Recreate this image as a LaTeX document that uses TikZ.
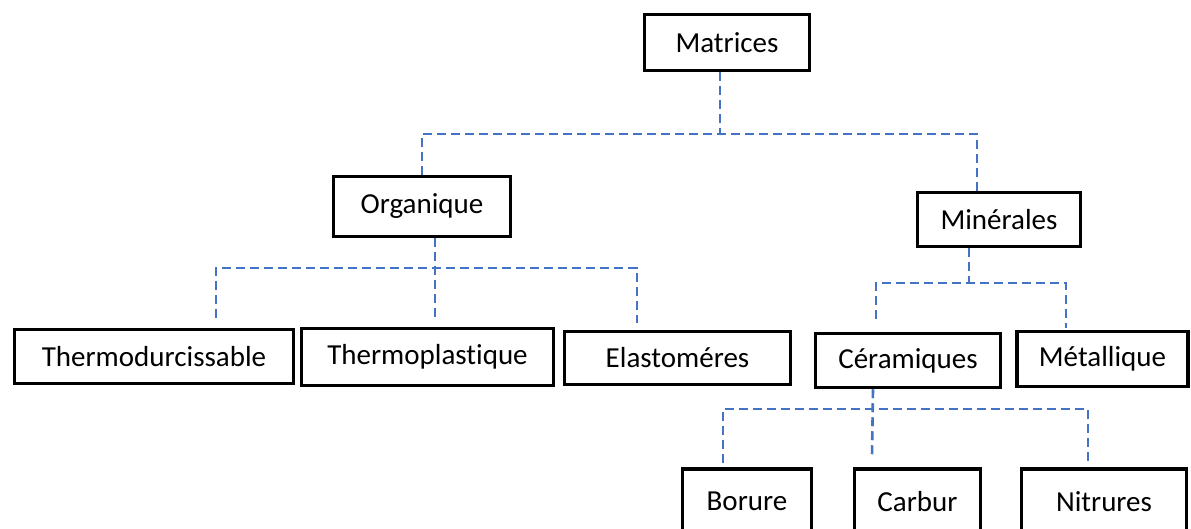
\documentclass[tikz,border=0pt]{standalone}
\usepackage{fontspec}
\setmainfont[Ligatures=NoCommon]{Carlito}
\definecolor{linkblue}{RGB}{68,114,196}

\begin{document}
\begin{tikzpicture}
    [x=1pt,y=-1pt,
    box/.style={draw,line width=3.5pt,inner sep=0pt,font=\fontsize{29}{34}\selectfont},
    link/.style={draw=linkblue,line width=2.6pt,dash pattern=on 9pt off 5pt}]
    \useasboundingbox (0,0) rectangle (1191,529);
    \clip (0,0) rectangle (1191,529);
    \node [box,minimum width=165pt,minimum height=56pt] (mat) at (727,42.5) {Matrices};
    \node [box,minimum width=177pt,minimum height=60pt] (org) at (422,206.5) {Organique};
    \node [box,minimum width=163pt,minimum height=54pt] (min) at (999,219.5) {Minérales};
    \node [box,minimum width=279pt,minimum height=54pt] (tdu) at (154,356.5) {Thermodurcissable};
    \node [box,minimum width=252pt,minimum height=57pt] (tpl) at (427.5,357) {Thermoplastique};
    \node [box,minimum width=226pt,minimum height=53pt] (ela) at (677.5,358) {Elastoméres};
    \node [box,minimum width=185pt,minimum height=54pt] (cer) at (908,360.5) {Céramiques};
    \node [box,minimum width=171pt,minimum height=55pt] (met) at (1102.5,359) {Métallique};
    \node [box,minimum width=129pt,minimum height=71pt,text depth=0pt] (bor) at (747,504.5) {\raisebox{6pt}{Borure}};
    \node [box,minimum width=126pt,minimum height=71pt,text depth=0pt] (car) at (917.5,504.5) {\raisebox{6pt}{Carbur}};
    \node [box,minimum width=165pt,minimum height=71pt,text depth=0pt] (nit) at (1104,504.5) {\raisebox{6pt}{Nitrures}};

    \coordinate (j1) at (720,134);
    \coordinate (j2) at (435,268);
    \coordinate (j3) at (969,283);
    \coordinate (j4) at (873,409);

    \draw [link] ([xshift=-7pt]mat.south) -- (j1);
    \draw [link] (org.north) |- (j1) -| ([xshift=-22pt]min.north);

    \draw [link] ([xshift=13pt]org.south) -- ([xshift=7.5pt,yshift=10pt]tpl.north);
    \draw [link] ([xshift=62pt,yshift=10pt]tdu.north) |- (j2) -| ([xshift=-40.5pt,yshift=7pt]ela.north);

    \draw [link] ([xshift=-30pt]min.south) -- (j3);
    \draw [link] ([xshift=-32pt,yshift=13pt]cer.north) |- (j3) -| ([xshift=-36.5pt,yshift=2pt]met.north);

    \draw [link] ([xshift=-35pt]cer.south) -- ([xshift=-45.5pt,yshift=11pt]car.north);
    \draw [link] ([xshift=-24pt,yshift=4pt]bor.north) |- (j4) -| ([xshift=-16pt,yshift=4pt]nit.north);
\end{tikzpicture}
\end{document}
